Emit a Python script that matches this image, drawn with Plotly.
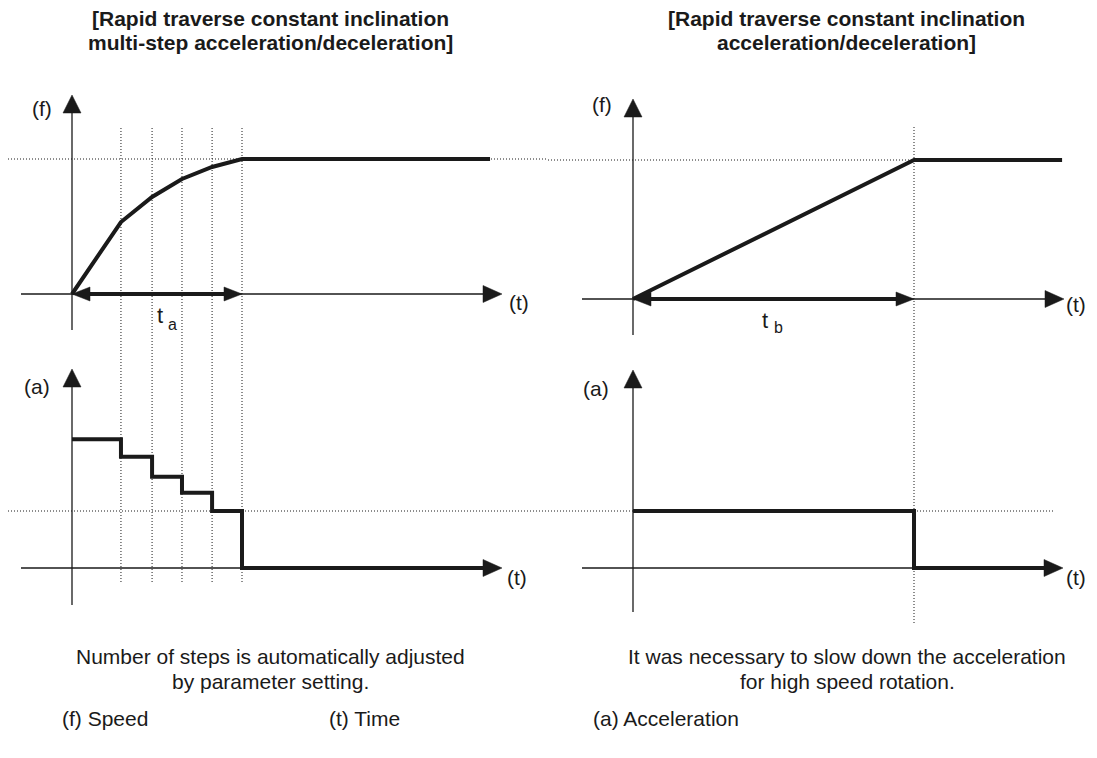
import plotly.graph_objects as go

# ---------------- data (normalised units) ----------------
# left: multi-step acceleration/deceleration (time in units of t_a)
step_times = [0.0, 0.288, 0.471, 0.647, 0.824, 1.0]
step_speed = [0.0, 0.533, 0.719, 0.852, 0.941, 1.0]
step_accel = [2.26, 1.95, 1.60, 1.32, 1.00]
left_hold_end = 2.459
left_accel_end = 2.42

# right: constant inclination (linear) acceleration/deceleration
tb = 1.653
lin_times = [0.0, tb, 2.524]
lin_speed = [0.0, 1.0, 1.0]
lin_accel = 1.0
right_accel_end = 2.42

# ---------------- layout helpers (page pixel geometry) ----------------
OFF = 8                      # default page body margin
W, H = 1089, 742
FONT = "Liberation Sans, Arial, sans-serif"
def px(x): return (x - OFF) / W
def py(y): return 1 - (y - OFF) / H
def xr(d0, d1, origin, scale): return [(d0 - origin) / scale, (d1 - origin) / scale]
def yr(top, bottom, origin, scale): return [(origin - bottom) / scale, (origin - top) / scale]

XS = 170.0  # px per time unit
LX0, RX0 = 72, 633
LF0, RF0, FS_L, FS_R = 294, 299, 135.0, 139.0
A0, AS = 568, 57.0
XMID = 548
YT0, YMID, YB1 = 60, 345, 640

fig = go.Figure()
BLACK = "#1a1a1a"

def line(x, y, xa, ya, w, shape="linear"):
    fig.add_trace(go.Scatter(x=x, y=y, xaxis=xa, yaxis=ya, mode="lines",
                             line=dict(color=BLACK, width=w, shape=shape),
                             hoverinfo="skip", showlegend=False))

def tri(xa, ya, tx, ty, d, sy, L=18, hw=9):
    """filled arrowhead, tip at (tx, ty) in data units; sizes in px."""
    lx, ly, wx, wy = L / XS, L / sy, hw / XS, hw / sy
    if d == "right":
        xs, ys = [tx, tx - lx, tx - lx, tx], [ty, ty + wy, ty - wy, ty]
    elif d == "left":
        xs, ys = [tx, tx + lx, tx + lx, tx], [ty, ty + wy, ty - wy, ty]
    else:  # up
        xs, ys = [tx, tx - wx, tx + wx, tx], [ty, ty - ly, ty - ly, ty]
    fig.add_trace(go.Scatter(x=xs, y=ys, xaxis=xa, yaxis=ya, mode="lines",
                             fill="toself", fillcolor=BLACK,
                             line=dict(color=BLACK, width=0.5),
                             hoverinfo="skip", showlegend=False))

AW = 1.3
# ---- axes (thin lines with arrowheads) ----
panels = [
    # xa, ya, x-origin, y-origin, y-scale, h-start, h-tip, v-bottom, v-tip (page px)
    ("x", "y", LX0, LF0, FS_L, 21, 502, 330, 95),
    ("x", "y3", LX0, A0, AS, 21, 502, 605, 369),
    ("x2", "y2", RX0, RF0, FS_R, 582, 1064, 335, 99),
    ("x2", "y4", RX0, A0, AS, 582, 1063, 612, 370),
]
for xa, ya, ox, oy, ys, hs, ht, vb, vt in panels:
    line([(hs - ox) / XS, (ht - 12 - ox) / XS], [0, 0], xa, ya, AW)
    line([0, 0], [(oy - vb) / ys, (oy - vt - 12) / ys], xa, ya, AW)
    tri(xa, ya, (ht - ox) / XS, 0, "right", ys, L=19, hw=8.5)
    tri(xa, ya, 0, (oy - vt) / ys, "up", ys, L=18, hw=9)

# ---- reference dotted lines ----
shapes = []
DOT = dict(color=BLACK, width=1, dash="1px,2px")
for t in step_times[1:]:
    shapes.append(dict(type="line", xref="x", yref="paper", x0=t, x1=t,
                       y0=py(582), y1=py(128), line=DOT, layer="below"))
shapes.append(dict(type="line", xref="x2", yref="paper", x0=tb, x1=tb,
                   y0=py(623), y1=py(125), line=DOT, layer="below"))
shapes.append(dict(type="line", xref="paper", yref="y", x0=px(8), x1=px(XMID),
                   y0=1, y1=1, line=DOT, layer="below"))
shapes.append(dict(type="line", xref="paper", yref="y2", x0=px(XMID), x1=px(1058),
                   y0=1, y1=1, line=DOT, layer="below"))
shapes.append(dict(type="line", xref="paper", yref="y3", x0=px(8), x1=px(XMID),
                   y0=lin_accel, y1=lin_accel, line=DOT, layer="below"))
shapes.append(dict(type="line", xref="paper", yref="y4", x0=px(XMID), x1=px(1055),
                   y0=lin_accel, y1=lin_accel, line=DOT, layer="below"))

# ---- thick curves ----
TW = 4
line(step_times + [left_hold_end], step_speed + [step_speed[-1]], "x", "y", TW)
line(step_times + [left_accel_end], step_accel + [0, 0], "x", "y3", TW, shape="hv")
line(lin_times, lin_speed, "x2", "y2", TW)
line([0, tb, right_accel_end], [lin_accel, 0, 0], "x2", "y4", TW, shape="hv")

# ---- thick double arrows t_a / t_b ----
for xa, ya, ys, tend in [("x", "y", FS_L, step_times[-1]), ("x2", "y2", FS_R, tb)]:
    line([0 + 14 / XS, tend - 14 / XS], [0, 0], xa, ya, TW)
    tri(xa, ya, 0, 0, "left", ys, L=18, hw=7)
    tri(xa, ya, tend, 0, "right", ys, L=18, hw=7)

# ---- text ----
ann = []
def txt(s, x, y, size=21, xanchor="center", bold=False):
    ann.append(dict(text=f"<b>{s}</b>" if bold else s, x=px(x), y=py(y),
                    xref="paper", yref="paper", showarrow=False,
                    xanchor=xanchor, yanchor="middle",
                    font=dict(family=FONT, size=size, color=BLACK)))

txt("[Rapid traverse constant inclination", 270, 19, bold=True)
txt("multi-step acceleration/deceleration]", 270, 42, bold=True)
txt("[Rapid traverse constant inclination", 846, 19, bold=True)
txt("acceleration/deceleration]", 846, 42, bold=True)
txt("(f)", 42, 108); txt("(f)", 602, 104)
txt("(a)", 37, 386); txt("(a)", 596, 388)
txt("(t)", 519, 302); txt("(t)", 517, 577)
txt("(t)", 1088, 304, xanchor="right"); txt("(t)", 1088, 577, xanchor="right")
txt("t", 155, 315, size=22, xanchor="left")
txt("a", 166, 324, size=16, xanchor="left")
txt("t", 760, 320, size=22, xanchor="left")
txt("b", 772, 327, size=16, xanchor="left")
txt("Number of steps is automatically adjusted", 270, 656)
txt("by parameter setting.", 270, 681)
txt("It was necessary to slow down the acceleration", 847, 656)
txt("for high speed rotation.", 847, 681)
txt("(f) Speed", 60, 718, xanchor="left")
txt("(t) Time", 327, 718, xanchor="left")
txt("(a) Acceleration", 591, 718, xanchor="left")

ax_common = dict(visible=False, showgrid=False, zeroline=False, fixedrange=True)
fig.update_layout(
    width=W, height=H, margin=dict(l=0, r=0, t=0, b=0),
    paper_bgcolor="white", plot_bgcolor="rgba(0,0,0,0)", showlegend=False,
    xaxis=dict(domain=[0, px(XMID)], range=xr(OFF, XMID, LX0, XS), anchor="y", **ax_common),
    xaxis2=dict(domain=[px(XMID), 1], range=xr(XMID, OFF + W, RX0, XS), anchor="y2", **ax_common),
    yaxis=dict(domain=[py(YMID), py(YT0)], range=yr(YT0, YMID, LF0, FS_L), anchor="x", **ax_common),
    yaxis2=dict(domain=[py(YMID), py(YT0)], range=yr(YT0, YMID, RF0, FS_R), anchor="x2", **ax_common),
    yaxis3=dict(domain=[py(YB1), py(YMID)], range=yr(YMID, YB1, A0, AS), anchor="x", **ax_common),
    yaxis4=dict(domain=[py(YB1), py(YMID)], range=yr(YMID, YB1, A0, AS), anchor="x2", **ax_common),
    shapes=shapes, annotations=ann,
)
fig.write_html("out.html")
